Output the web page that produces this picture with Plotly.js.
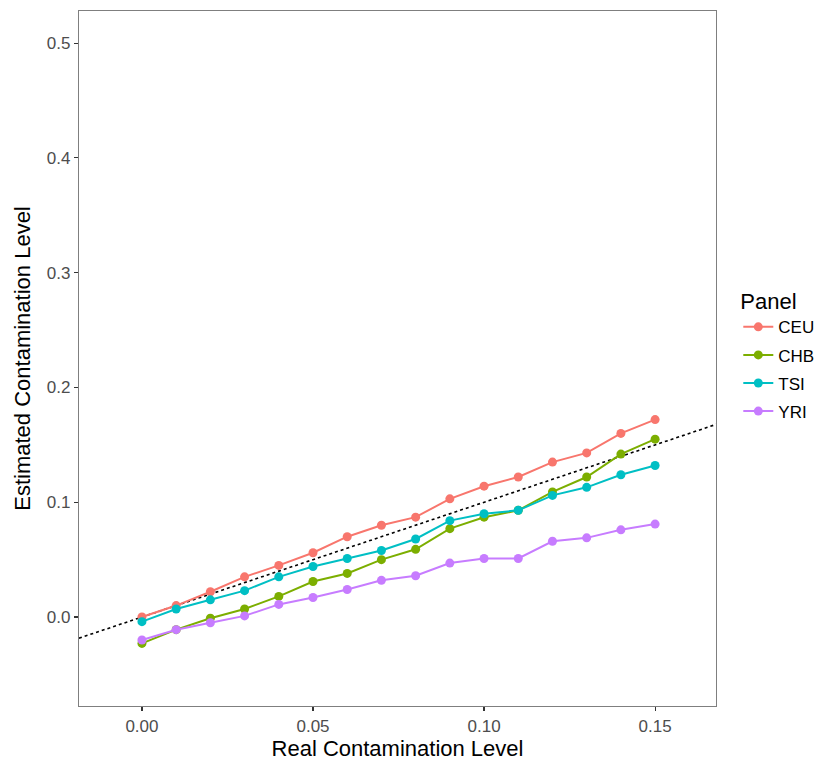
<!DOCTYPE html>
<html>
<head>
<meta charset="utf-8">
<script src="https://cdn.plot.ly/plotly-3.0.1.min.js"></script>
<style>html,body{margin:0;padding:0;background:#fff;}#chart{width:827px;height:761px;}</style>
</head>
<body>
<div id="chart"></div>
<script>
const realLevel = [0.00,0.01,0.02,0.03,0.04,0.05,0.06,0.07,0.08,0.09,0.10,0.11,0.12,0.13,0.14,0.15];
const panels = ["CEU","CHB","TSI","YRI"];
const ceu = [0.000,0.010,0.022,0.035,0.045,0.056,0.070,0.080,0.087,0.103,0.114,0.122,0.135,0.143,0.160,0.172];
const chb = [-0.023,-0.011,-0.001,0.007,0.018,0.031,0.038,0.050,0.059,0.077,0.087,0.093,0.109,0.122,0.142,0.155];
const tsi = [-0.004,0.007,0.015,0.023,0.035,0.044,0.051,0.058,0.068,0.084,0.090,0.093,0.106,0.113,0.124,0.132];
const yri = [-0.020,-0.011,-0.005,0.001,0.011,0.017,0.024,0.032,0.036,0.047,0.051,0.051,0.066,0.069,0.076,0.081];
const colors = ["#F8766D","#7CAE00","#00BFC4","#C77CFF"];
const refX = [-0.05, 0.25];
const refY = [-0.05, 0.25];
const xTicks = [0.00,0.05,0.10,0.15];
const xTickText = ["0.00","0.05","0.10","0.15"];
const yTicks = [0.0,0.1,0.2,0.3,0.4,0.5];
const yTickText = ["0.0","0.1","0.2","0.3","0.4","0.5"];

const series = [ceu, chb, tsi, yri];
const traces = [{
  x: refX, y: refY, mode: "lines", showlegend: false, hoverinfo: "skip",
  line: {color: "#000", width: 1.6, dash: "dot"}
}];
series.forEach((s, i) => {
  traces.push({
    x: realLevel, y: s, name: panels[i], mode: "lines+markers",
    legendgroup: panels[i],
    line: {color: colors[i], width: 2},
    marker: {color: colors[i], size: 9}
  });
});

const font = "Liberation Sans, Arial, Helvetica, sans-serif";
const layout = {
  width: 827, height: 761,
  margin: {l: 79, r: 111, t: 11, b: 55, autoexpand: false},
  paper_bgcolor: "#fff", plot_bgcolor: "#fff",
  font: {family: font, color: "#000"},
  showlegend: true,
  xaxis: {
    range: [-0.0184, 0.1678], tickvals: xTicks, ticktext: xTickText,
    showgrid: false, zeroline: false, showline: true, mirror: true,
    linecolor: "#7f7f7f", linewidth: 1.2,
    ticks: "outside", ticklen: 4, tickcolor: "#333", tickwidth: 1.1,
    tickfont: {size: 17, color: "#4D4D4D", family: font},
    title: {text: "Real Contamination Level", font: {size: 22, color: "#000", family: font}, standoff: 8}
  },
  yaxis: {
    range: [-0.0775, 0.528], tickvals: yTicks, ticktext: yTickText,
    showgrid: false, zeroline: false, showline: true, mirror: true,
    linecolor: "#7f7f7f", linewidth: 1.2,
    ticks: "outside", ticklen: 4, tickcolor: "#333", tickwidth: 1.1,
    tickfont: {size: 17, color: "#4D4D4D", family: font},
    title: {text: "Estimated Contamination Level", font: {size: 22, color: "#000", family: font}, standoff: 10}
  },
  legend: {
    x: 1.035, xanchor: "left", y: 0.612, yanchor: "top",
    title: {text: "Panel", font: {size: 22, family: font, color: "#000"}},
    font: {size: 17, family: font, color: "#000"},
    traceorder: "grouped", tracegroupgap: 3,
    bgcolor: "rgba(0,0,0,0)", itemwidth: 30
  }
};
Plotly.newPlot("chart", traces, layout, {displayModeBar: false, staticPlot: true});
</script>
</body>
</html>
